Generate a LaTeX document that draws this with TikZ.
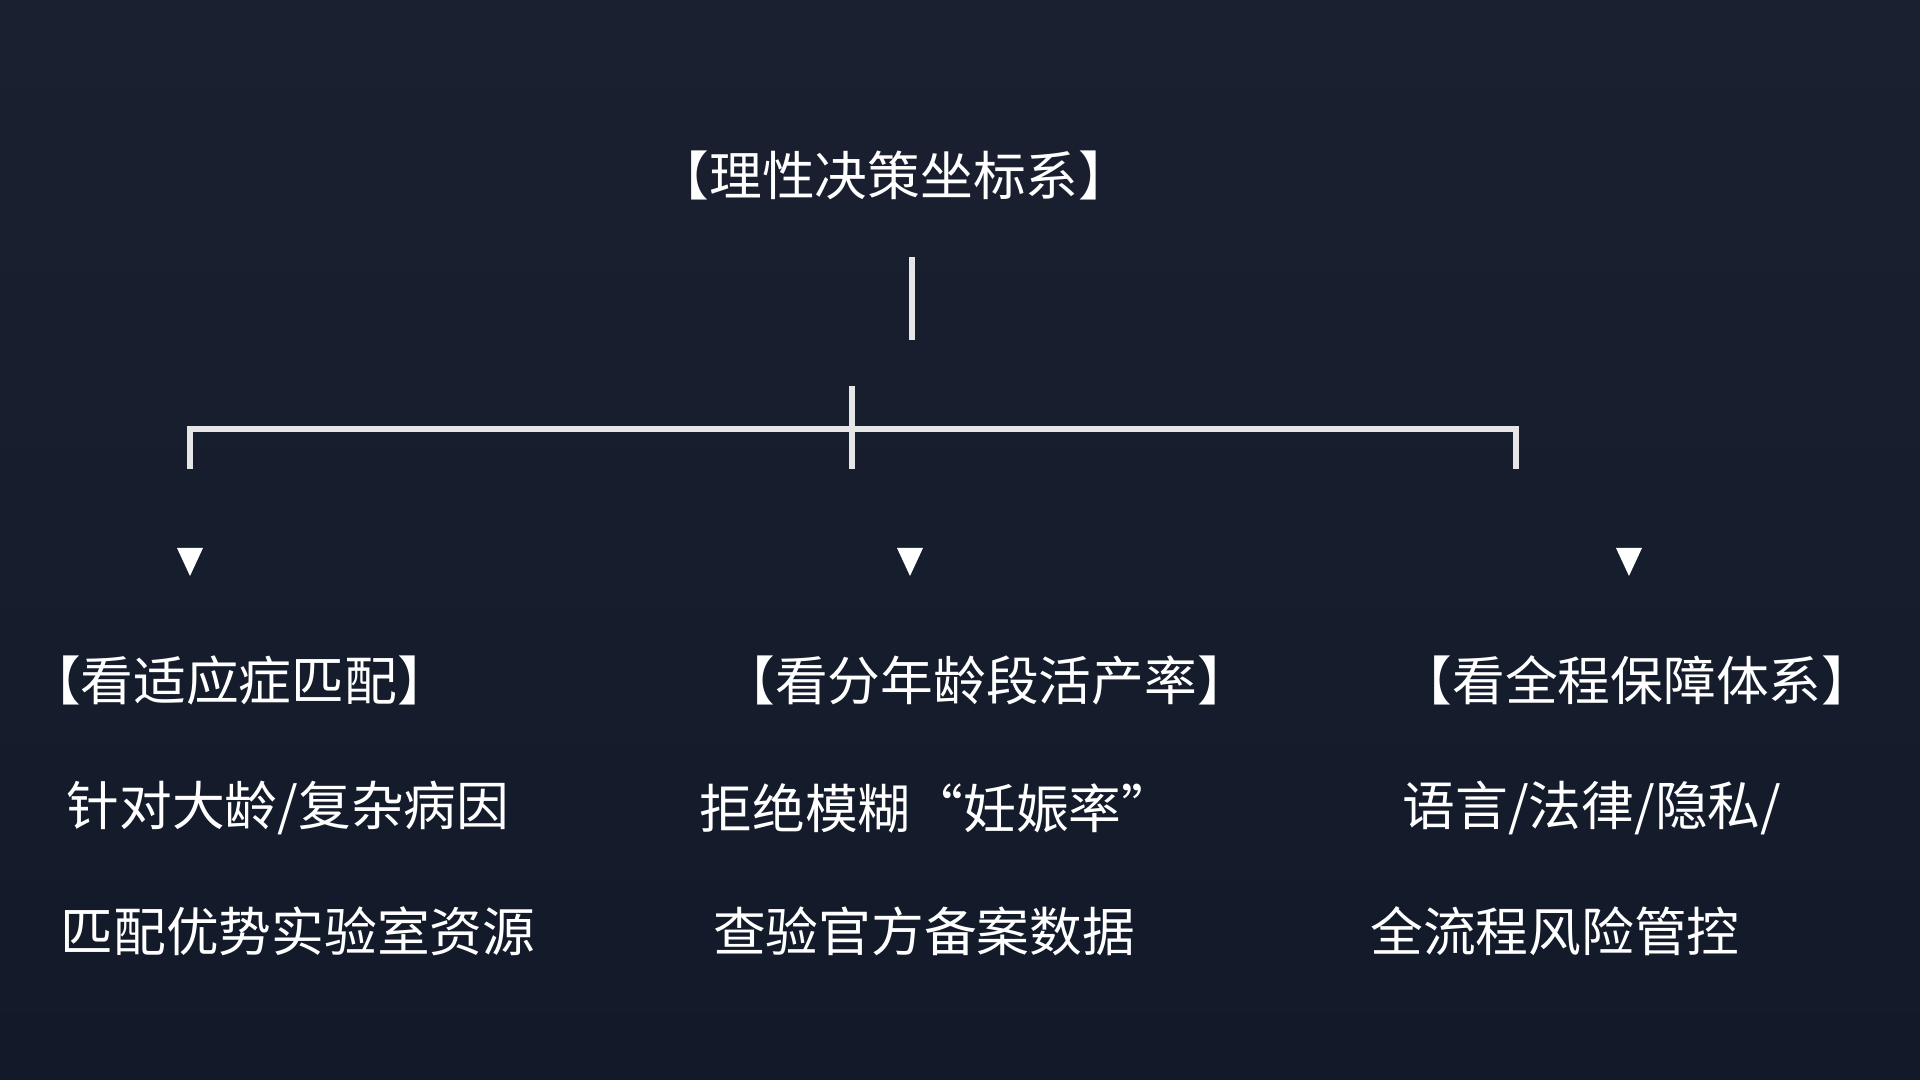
\documentclass[tikz,border=0pt]{standalone}
\usepackage{fontspec}
\setmainfont{Noto Sans CJK SC}
\definecolor{bgtop}{HTML}{1A2030}
\definecolor{bgbot}{HTML}{121A2A}
\definecolor{ln}{HTML}{E6E6E6}
\begin{document}
\begin{tikzpicture}[x=0.01cm,y=-0.01cm,
  txt/.style={text=white,font=\fontsize{15}{18}\selectfont,inner sep=0pt},
  conn/.style={draw=ln,line width=1.6pt},
  tri/.style={fill=white,regular polygon sides=3}]
\shade[top color=bgtop,bottom color=bgbot] (0,0) rectangle (1920,1080);
\useasboundingbox (0,0) rectangle (1920,1080);
\node[txt] (t) at (894,175) {【理性决策坐标系】};
\coordinate (v1) at (912,257); \coordinate (v2) at (912,340);
\draw[conn] (v1) -- (v2);
\coordinate (hl) at (190,429); \coordinate (hr) at (1516,429);
\coordinate (hlb) at (190,469); \coordinate (hrb) at (1516,469);
\coordinate (mt) at (852,386); \coordinate (mb) at (852,469);
\draw[conn] (hlb) -- (hl) -- (hr) -- (hrb);
\draw[conn] (mt) -- (mb);
\foreach \x/\n in {190/a,910/b,1629/c}
  \fill[white] (\x-13,548) -- (\x+13,548) -- (\x,576) -- cycle;
\node[txt] (h1) at (239,680) {【看适应症匹配】};
\node[txt] (h2) at (986,680) {【看分年龄段活产率】};
\node[txt] (h3) at (1637,680) {【看全程保障体系】};
\node[txt] (l1) at (288,808) {针对大龄/复杂病因};
\node[txt] (l2) at (298,931) {匹配优势实验室资源};
\node[txt] (m1) at (937,808) {拒绝模糊“妊娠率”};
\node[txt] (m2) at (924,931) {查验官方备案数据};
\node[txt] (r1) at (1592,808) {语言/法律/隐私/};
\node[txt] (r2) at (1555,931) {全流程风险管控};
\end{tikzpicture}
\end{document}
